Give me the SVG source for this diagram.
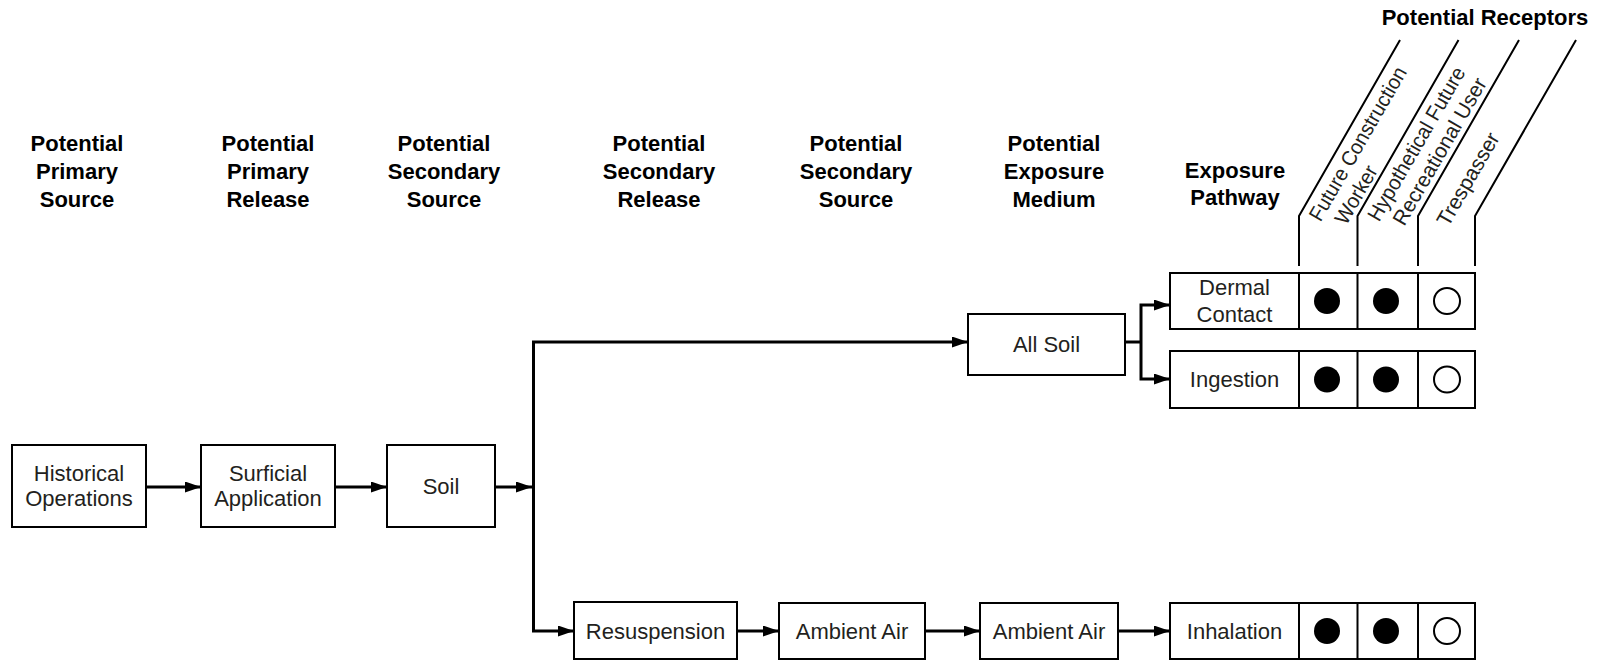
<svg xmlns="http://www.w3.org/2000/svg" width="1604" height="662" viewBox="0 0 1604 662">
<style>
.hdr{font-family:"Liberation Sans",Arial,sans-serif;font-weight:bold;font-size:22px;fill:#000;text-anchor:middle}
.lbl{font-family:"Liberation Sans",Arial,sans-serif;font-size:22px;fill:#231f20;text-anchor:middle}
.rot{font-family:"Liberation Sans",Arial,sans-serif;font-size:21px;fill:#231f20}
.box{fill:#fff;stroke:#000;stroke-width:2}
.div{stroke:#000;stroke-width:2;fill:none}
.con{stroke:#000;stroke-width:3;fill:none}
.arr{stroke:#000;stroke-width:3;fill:none;marker-end:url(#ah)}
.full{fill:#000}
.open{fill:#fff;stroke:#000;stroke-width:2}
.rl{stroke:#000;stroke-width:2;fill:none}
</style>
<defs>
<marker id="ah" markerUnits="userSpaceOnUse" markerWidth="17" markerHeight="11" refX="16" refY="5.5" orient="auto">
<path d="M0,0 L16,5.5 L0,11 Z" fill="#000"/>
</marker>
</defs>
<rect width="1604" height="662" fill="#fff"/>

<g id="headers">
<text class="hdr" x="77" y="151">Potential</text>
<text class="hdr" x="77" y="179">Primary</text>
<text class="hdr" x="77" y="207">Source</text>
<text class="hdr" x="268" y="151">Potential</text>
<text class="hdr" x="268" y="179">Primary</text>
<text class="hdr" x="268" y="207">Release</text>
<text class="hdr" x="444" y="151">Potential</text>
<text class="hdr" x="444" y="179">Secondary</text>
<text class="hdr" x="444" y="207">Source</text>
<text class="hdr" x="659" y="151">Potential</text>
<text class="hdr" x="659" y="179">Secondary</text>
<text class="hdr" x="659" y="207">Release</text>
<text class="hdr" x="856" y="151">Potential</text>
<text class="hdr" x="856" y="179">Secondary</text>
<text class="hdr" x="856" y="207">Source</text>
<text class="hdr" x="1054" y="151">Potential</text>
<text class="hdr" x="1054" y="179">Exposure</text>
<text class="hdr" x="1054" y="207">Medium</text>
<text class="hdr" x="1235" y="178">Exposure</text>
<text class="hdr" x="1235" y="205">Pathway</text>
<text class="hdr" x="1485" y="25">Potential Receptors</text>
</g>

<g id="receptor-heads">
<path class="rl" d="M1299,266 V216 L1400,40"/>
<path class="rl" d="M1357.5,266 V216 L1458.5,40"/>
<path class="rl" d="M1418,266 V216 L1519,40"/>
<path class="rl" d="M1475,266 V216 L1576,40"/>
<g transform="translate(1299,216) rotate(-60)">
<text class="rot" x="5" y="22" textLength="174" lengthAdjust="spacingAndGlyphs">Future Construction</text>
<text class="rot" x="15" y="46" textLength="64" lengthAdjust="spacingAndGlyphs">Worker</text>
</g>
<g transform="translate(1357.5,216) rotate(-60)">
<text class="rot" x="5" y="22" textLength="174" lengthAdjust="spacingAndGlyphs">Hypothetical Future</text>
<text class="rot" x="14" y="46" textLength="166" lengthAdjust="spacingAndGlyphs">Recreational User</text>
</g>
<g transform="translate(1418,216) rotate(-60)">
<text class="rot" x="5" y="32" textLength="104" lengthAdjust="spacingAndGlyphs">Trespasser</text>
</g>
</g>

<g id="connectors">
<line class="arr" x1="146" y1="487" x2="201" y2="487"/>
<line class="arr" x1="335" y1="487" x2="387" y2="487"/>
<line class="arr" x1="495" y1="487" x2="532" y2="487"/>
<path class="con" d="M533.5,342 V631"/>
<line class="arr" x1="532" y1="342" x2="968" y2="342"/>
<line class="arr" x1="532" y1="631" x2="574" y2="631"/>
<line class="arr" x1="737" y1="631" x2="779" y2="631"/>
<line class="arr" x1="925" y1="631" x2="980" y2="631"/>
<line class="arr" x1="1118" y1="631" x2="1170" y2="631"/>
<path class="con" d="M1125,342 H1141"/>
<path class="arr" d="M1141,342 V305 H1170"/>
<path class="arr" d="M1141,342 V379 H1170"/>
</g>

<g id="historical-operations">
<rect class="box" x="12" y="445" width="134" height="82"/>
<text class="lbl" x="79" y="481">Historical</text>
<text class="lbl" x="79" y="506">Operations</text>
</g>
<g id="surficial-application">
<rect class="box" x="201" y="445" width="134" height="82"/>
<text class="lbl" x="268" y="481">Surficial</text>
<text class="lbl" x="268" y="506">Application</text>
</g>
<g id="soil">
<rect class="box" x="387" y="445" width="108" height="82"/>
<text class="lbl" x="441" y="494">Soil</text>
</g>
<g id="all-soil">
<rect class="box" x="968" y="314" width="157" height="61"/>
<text class="lbl" x="1046.5" y="352">All Soil</text>
</g>
<g id="resuspension">
<rect class="box" x="574" y="602" width="163" height="57"/>
<text class="lbl" x="655.5" y="639">Resuspension</text>
</g>
<g id="ambient-air-release">
<rect class="box" x="779" y="603" width="146" height="56"/>
<text class="lbl" x="852" y="639">Ambient Air</text>
</g>
<g id="ambient-air-medium">
<rect class="box" x="980" y="603" width="138" height="56"/>
<text class="lbl" x="1049" y="639">Ambient Air</text>
</g>

<g id="dermal-contact">
<rect class="box" x="1170" y="273" width="305" height="56"/>
<path class="div" d="M1299,273 V329 M1357.5,273 V329 M1418,273 V329"/>
<text class="lbl" x="1234.5" y="295">Dermal</text>
<text class="lbl" x="1234.5" y="322">Contact</text>
<circle class="full" cx="1327" cy="301" r="13"/>
<circle class="full" cx="1386" cy="301" r="13"/>
<circle class="open" cx="1447" cy="301" r="13"/>
</g>
<g id="ingestion">
<rect class="box" x="1170" y="351" width="305" height="57"/>
<path class="div" d="M1299,351 V408 M1357.5,351 V408 M1418,351 V408"/>
<text class="lbl" x="1234.5" y="387">Ingestion</text>
<circle class="full" cx="1327" cy="379.5" r="13"/>
<circle class="full" cx="1386" cy="379.5" r="13"/>
<circle class="open" cx="1447" cy="379.5" r="13"/>
</g>
<g id="inhalation">
<rect class="box" x="1170" y="603" width="305" height="56"/>
<path class="div" d="M1299,603 V659 M1357.5,603 V659 M1418,603 V659"/>
<text class="lbl" x="1234.5" y="639">Inhalation</text>
<circle class="full" cx="1327" cy="631" r="13"/>
<circle class="full" cx="1386" cy="631" r="13"/>
<circle class="open" cx="1447" cy="631" r="13"/>
</g>
</svg>
